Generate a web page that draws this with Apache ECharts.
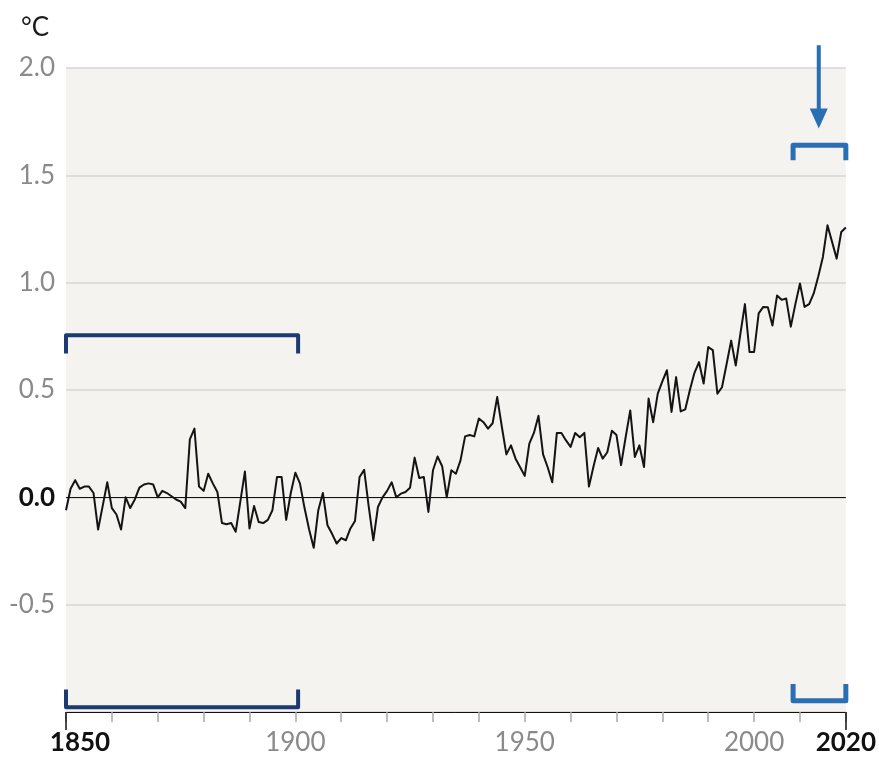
<!DOCTYPE html>
<html>
<head>
<meta charset="utf-8">
<script src="https://cdn.jsdelivr.net/npm/echarts@6/dist/echarts.min.js"></script>
<style>
  html, body { margin: 0; padding: 0; background: #ffffff; }
  #chart { width: 879px; height: 757px; }
</style>
</head>
<body>
<div id="chart"></div>
<script>
// Global surface temperature change relative to 1850–1900 (°C), one value per year
const startYear = 1850;
const anomalies = [
  -0.06, 0.04, 0.08, 0.04, 0.05, 0.05, 0.02, -0.15, -0.04, 0.07,      // 1850s
  -0.05, -0.08, -0.15, 0.00, -0.05, -0.01, 0.045, 0.06, 0.065, 0.06,  // 1860s
  0.00, 0.03, 0.02, 0.005, -0.01, -0.02, -0.05, 0.27, 0.32, 0.05,     // 1870s
  0.03, 0.11, 0.065, 0.025, -0.12, -0.125, -0.12, -0.16, -0.02, 0.12, // 1880s
  -0.145, -0.04, -0.115, -0.12, -0.105, -0.06, 0.095, 0.095, -0.105, 0.02, // 1890s
  0.115, 0.065, -0.05, -0.15, -0.235, -0.06, 0.02, -0.13, -0.17, -0.215,   // 1900s
  -0.19, -0.2, -0.145, -0.11, 0.095, 0.128, -0.045, -0.2, -0.045, 0.0,     // 1910s
  0.03, 0.07, 0.0, 0.017, 0.025, 0.045, 0.185, 0.09, 0.095, -0.068,        // 1920s
  0.126, 0.19, 0.145, 0.0, 0.126, 0.11, 0.172, 0.284, 0.29, 0.284,         // 1930s
  0.367, 0.35, 0.32, 0.345, 0.467, 0.33, 0.2, 0.242, 0.18, 0.14,           // 1940s
  0.10, 0.25, 0.30, 0.38, 0.20, 0.14, 0.07, 0.30, 0.30, 0.265,             // 1950s
  0.235, 0.30, 0.28, 0.30, 0.05, 0.145, 0.23, 0.18, 0.21, 0.31,            // 1960s
  0.29, 0.15, 0.28, 0.405, 0.188, 0.242, 0.141, 0.46, 0.35, 0.483,         // 1970s
  0.54, 0.592, 0.398, 0.56, 0.40, 0.41, 0.50, 0.58, 0.63, 0.53,            // 1980s
  0.70, 0.686, 0.483, 0.513, 0.62, 0.73, 0.614, 0.76, 0.90, 0.677,         // 1990s
  0.677, 0.857, 0.887, 0.885, 0.80, 0.94, 0.92, 0.926, 0.795, 0.90,        // 2000s
  0.996, 0.887, 0.90, 0.95, 1.03, 1.12, 1.267, 1.19, 1.112, 1.236,         // 2010s
  1.257                                                                     // 2020
];

// Axis ticks and labels
const yTicks = [-1.0, -0.5, 0.0, 0.5, 1.0, 1.5, 2.0];
const xLabelYears = [1850, 1900, 1950, 2000, 2020];
const xEndYears = [1850, 2020];

// Reference-period brackets (year, °C)
const baselineTop = [[1850, 0.67], [1850, 0.755], [1900.6, 0.755], [1900.6, 0.67]];
const baselineBottom = [[1850, -0.895], [1850, -0.978], [1900.6, -0.978], [1900.6, -0.895]];
const recentTop = [[2008.5, 1.57], [2008.5, 1.64], [2020, 1.64], [2020, 1.57]];
const recentBottom = [[2008.5, -0.87], [2008.5, -0.948], [2020, -0.948], [2020, -0.87]];
const arrowShaft = [[2014.1, 2.106], [2014.1, 1.8]];
const arrowHead = [[2014.1, 1.765]];

const seriesData = anomalies.map((v, i) => [startYear + i, v]);

const FONT = 'Lato, "Noto Sans", sans-serif';
const NAVY = '#1d3a70';
const BLUE = '#2a6eb4';

const chart = echarts.init(document.getElementById('chart'), null, { renderer: 'canvas' });

function bracket(data, color, width) {
  return {
    type: 'line',
    data: data,
    showSymbol: false,
    symbol: 'none',
    clip: false,
    silent: true,
    z: 4,
    lineStyle: { color: color, width: width, cap: 'butt', join: 'round' }
  };
}

chart.setOption({
  animation: false,
  backgroundColor: '#ffffff',
  grid: {
    left: 66, right: 32, top: 68, bottom: 45,
    show: true, backgroundColor: '#f5f3f0', borderWidth: 0
  },
  graphic: [{
    type: 'text', left: 21, top: 15,
    style: { text: '°C', font: '26px ' + FONT, fill: '#1a1a1a' }
  }],
  xAxis: [{
    type: 'value', min: 1850, max: 2020, interval: 10,
    axisLine: { show: true, onZero: false, lineStyle: { color: '#111', width: 1 } },
    axisTick: { show: true, length: 10, lineStyle: { color: '#a8a8a8', width: 1.5 } },
    splitLine: { show: false },
    axisLabel: {
      customValues: xLabelYears,
      margin: 18,
      fontFamily: FONT, fontSize: 26, color: '#8a8a8a',
      formatter: v => (v === 1850 ? '{a|1850}' : v === 2020 ? '{e|2020}' : String(v)),
      rich: {
        a: { fontFamily: FONT, fontSize: 26, fontWeight: 'bold', color: '#111', padding: [0, 0, 0, 28] },
        e: { fontFamily: FONT, fontSize: 26, fontWeight: 'bold', color: '#111' }
      }
    }
  }, {
    type: 'value', min: 1850, max: 2020, position: 'bottom',
    axisLine: { show: false, onZero: false },
    axisLabel: { show: false },
    splitLine: { show: false },
    axisTick: { show: true, customValues: xEndYears, length: 18, lineStyle: { color: '#111', width: 1.5 } }
  }],
  yAxis: {
    type: 'value', min: yTicks[0], max: yTicks[yTicks.length - 1], interval: 0.5,
    axisLine: { show: false },
    axisTick: { show: false },
    splitLine: { show: true, lineStyle: { color: '#d6d6d6', width: 1.5 } },
    axisLabel: {
      margin: 11,
      fontFamily: FONT, fontSize: 26, color: '#8a8a8a',
      formatter: v => (v <= -1 ? '' : v === 0 ? '{z|0.0}' : v.toFixed(1)),
      rich: { z: { fontFamily: FONT, fontSize: 26, fontWeight: 'bold', color: '#111' } }
    }
  },
  series: [
    {
      type: 'line',
      data: seriesData,
      showSymbol: false,
      symbol: 'none',
      z: 3,
      lineStyle: { color: '#141414', width: 2, join: 'round' },
      markLine: {
        silent: true,
        symbol: ['none', 'none'],
        label: { show: false },
        lineStyle: { color: '#111', width: 1, type: 'solid' },
        data: [{ yAxis: 0 }],
        z: 2
      }
    },
    bracket(baselineTop, NAVY, 4),
    bracket(baselineBottom, NAVY, 4),
    bracket(recentTop, BLUE, 5),
    bracket(recentBottom, BLUE, 5),
    bracket(arrowShaft, BLUE, 4),
    {
      type: 'scatter',
      data: arrowHead,
      clip: false,
      silent: true,
      symbol: 'triangle',
      symbolRotate: 180,
      symbolSize: [18, 20],
      itemStyle: { color: BLUE, opacity: 1 },
      z: 5
    }
  ]
});
</script>
</body>
</html>
